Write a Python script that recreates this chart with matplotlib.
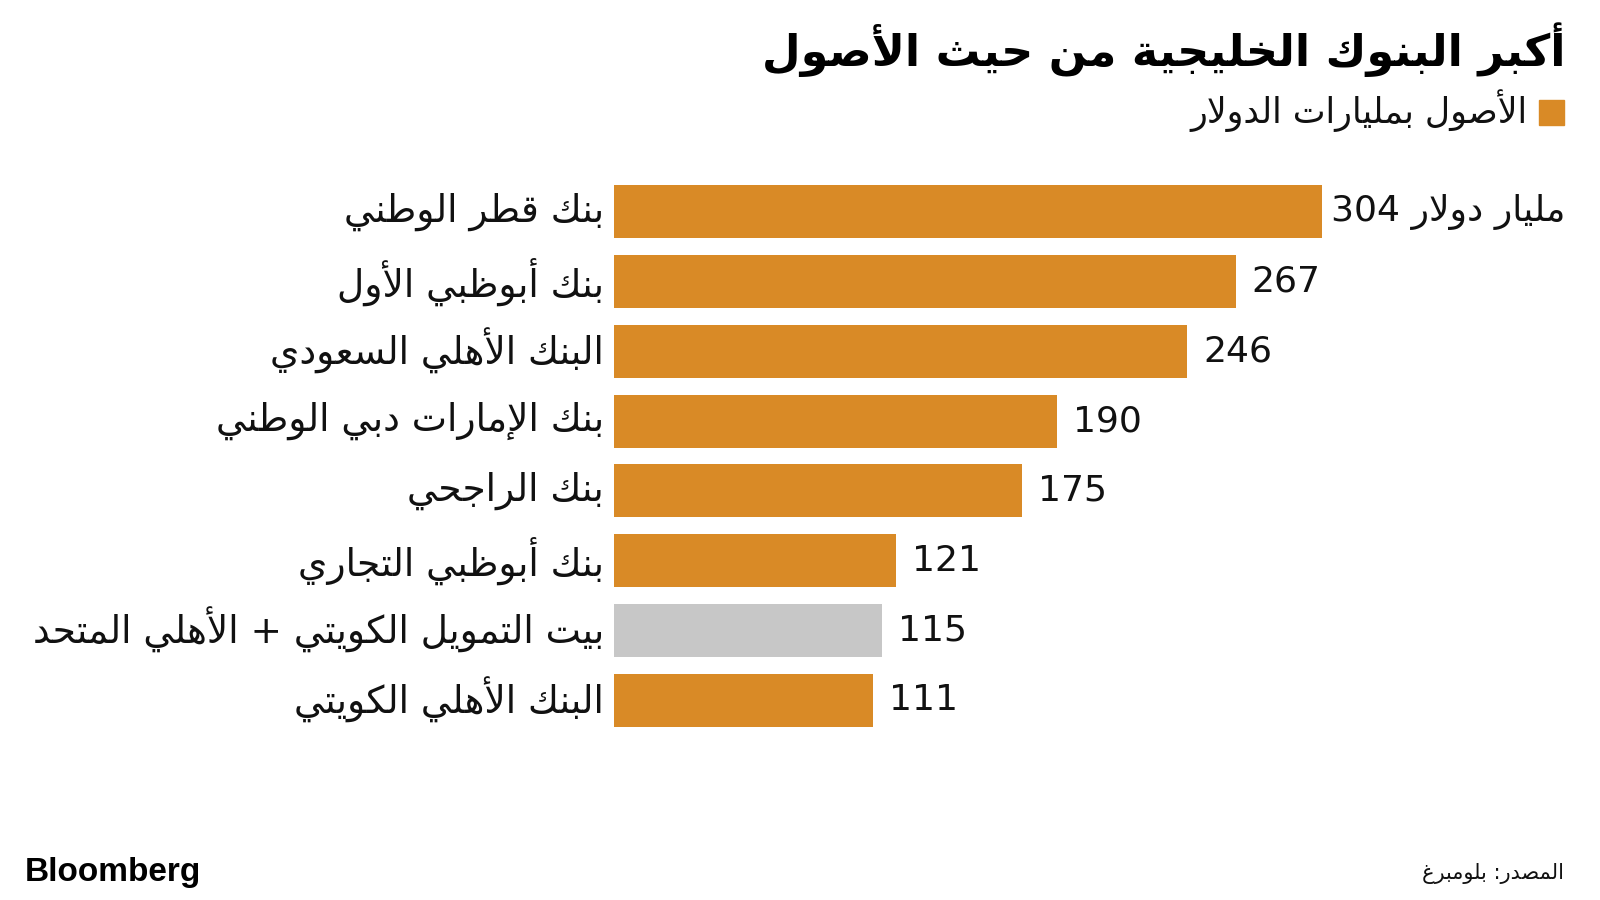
import matplotlib
matplotlib.use("Agg")
import matplotlib.pyplot as plt

# matplotlib has no Arabic shaping, so map letters to presentation forms
# (isolated, final, initial, medial) and lay them out right-to-left by hand
FORMS = {
    'ء': ('\uFE80',),
    'آ': ('\uFE81', '\uFE82'),
    'أ': ('\uFE83', '\uFE84'),
    'ؤ': ('\uFE85', '\uFE86'),
    'إ': ('\uFE87', '\uFE88'),
    'ئ': ('\uFE89', '\uFE8A', '\uFE8B', '\uFE8C'),
    'ا': ('\uFE8D', '\uFE8E'),
    'ب': ('\uFE8F', '\uFE90', '\uFE91', '\uFE92'),
    'ة': ('\uFE93', '\uFE94'),
    'ت': ('\uFE95', '\uFE96', '\uFE97', '\uFE98'),
    'ث': ('\uFE99', '\uFE9A', '\uFE9B', '\uFE9C'),
    'ج': ('\uFE9D', '\uFE9E', '\uFE9F', '\uFEA0'),
    'ح': ('\uFEA1', '\uFEA2', '\uFEA3', '\uFEA4'),
    'خ': ('\uFEA5', '\uFEA6', '\uFEA7', '\uFEA8'),
    'د': ('\uFEA9', '\uFEAA'),
    'ذ': ('\uFEAB', '\uFEAC'),
    'ر': ('\uFEAD', '\uFEAE'),
    'ز': ('\uFEAF', '\uFEB0'),
    'س': ('\uFEB1', '\uFEB2', '\uFEB3', '\uFEB4'),
    'ش': ('\uFEB5', '\uFEB6', '\uFEB7', '\uFEB8'),
    'ص': ('\uFEB9', '\uFEBA', '\uFEBB', '\uFEBC'),
    'ض': ('\uFEBD', '\uFEBE', '\uFEBF', '\uFEC0'),
    'ط': ('\uFEC1', '\uFEC2', '\uFEC3', '\uFEC4'),
    'ظ': ('\uFEC5', '\uFEC6', '\uFEC7', '\uFEC8'),
    'ع': ('\uFEC9', '\uFECA', '\uFECB', '\uFECC'),
    'غ': ('\uFECD', '\uFECE', '\uFECF', '\uFED0'),
    'ف': ('\uFED1', '\uFED2', '\uFED3', '\uFED4'),
    'ق': ('\uFED5', '\uFED6', '\uFED7', '\uFED8'),
    'ك': ('\uFED9', '\uFEDA', '\uFEDB', '\uFEDC'),
    'ل': ('\uFEDD', '\uFEDE', '\uFEDF', '\uFEE0'),
    'م': ('\uFEE1', '\uFEE2', '\uFEE3', '\uFEE4'),
    'ن': ('\uFEE5', '\uFEE6', '\uFEE7', '\uFEE8'),
    'ه': ('\uFEE9', '\uFEEA', '\uFEEB', '\uFEEC'),
    'و': ('\uFEED', '\uFEEE'),
    'ى': ('\uFEEF', '\uFEF0'),
    'ي': ('\uFEF1', '\uFEF2', '\uFEF3', '\uFEF4'),
}
LAM_ALEF = {
    'آ': ('\uFEF5', '\uFEF6'),
    'أ': ('\uFEF7', '\uFEF8'),
    'إ': ('\uFEF9', '\uFEFA'),
    'ا': ('\uFEFB', '\uFEFC'),
}


def joins_next(c):
    return c in FORMS and len(FORMS[c]) == 4


def shape(s):
    out = []
    i = 0
    n = len(s)
    while i < n:
        c = s[i]
        prev_join = i > 0 and joins_next(s[i - 1])
        if c == 'ل' and i + 1 < n and s[i + 1] in LAM_ALEF:
            out.append(LAM_ALEF[s[i + 1]][1 if prev_join else 0])
            i += 2
            continue
        if c not in FORMS:
            out.append(c)
            i += 1
            continue
        f = FORMS[c]
        next_join = (len(f) == 4 and i + 1 < n and s[i + 1] in FORMS
                     and len(FORMS[s[i + 1]]) > 1)
        if len(f) == 1:
            out.append(f[0])
        elif prev_join and next_join:
            out.append(f[3])
        elif prev_join:
            out.append(f[1])
        elif next_join:
            out.append(f[2])
        else:
            out.append(f[0])
        i += 1
    return ''.join(out)


def rtl(s):
    # reverse for display, keeping digit runs in reading order
    s = shape(s)
    tokens = []
    for ch in s:
        if ch.isdigit() and tokens and tokens[-1][-1].isdigit():
            tokens[-1] += ch
        else:
            tokens.append(ch)
    return ''.join(reversed(tokens))


title = "أكبر البنوك الخليجية من حيث الأصول"
legend_label = "الأصول بمليارات الدولار"
unit = "مليار دولار"
source = "المصدر: بلومبرغ"

banks = [
    "بنك قطر الوطني",
    "بنك أبوظبي الأول",
    "البنك الأهلي السعودي",
    "بنك الإمارات دبي الوطني",
    "بنك الراجحي",
    "بنك أبوظبي التجاري",
    "بيت التمويل الكويتي + الأهلي المتحد",
    "البنك الأهلي الكويتي",
]
assets = [304, 267, 246, 190, 175, 121, 115, 111]
merged = [False, False, False, False, False, False, True, False]

ORANGE = "#D98A26"
GREY = "#C7C7C7"
INK = "#111111"

plt.rcParams['font.family'] = ['DejaVu Sans']

fig = plt.figure(figsize=(16, 9), dpi=100)
ax = fig.add_axes([614 / 1600, 1 - 735 / 900, 952 / 1600, (735 - 177) / 900])

ypos = list(range(len(banks)))
colors = [GREY if m else ORANGE for m in merged]
ax.barh(ypos, assets, height=0.76, color=colors, zorder=2)
ax.set_xlim(0, 952 / 2.329)
ax.set_ylim(len(banks) - 0.5, -0.5)
ax.axis('off')

for y, v, name in zip(ypos, assets, banks):
    txt = f"{v}"
    gap = 16
    if y == 0:
        txt = f"{v} " + rtl(unit)
        gap = 9
    ax.annotate(txt, (v, y), xytext=(gap, 0), textcoords='offset pixels',
                ha='left', va='center', fontsize=26, color=INK)
    ax.annotate(rtl(name), (0, y), xytext=(-10, 0), textcoords='offset pixels',
                ha='right', va='center', fontsize=27, color=INK)

fig.text(1566 / 1600, 1 - 50 / 900, rtl(title), ha='right', va='center',
         fontsize=32, fontweight='bold', color='black')

# legend swatch + text
fig.patches.append(plt.Rectangle((1539 / 1600, 1 - 125 / 900), 25 / 1600, 25 / 900,
                                 transform=fig.transFigure, color=ORANGE))
fig.text(1528 / 1600, 1 - 111 / 900, rtl(legend_label), ha='right', va='center',
         fontsize=25, color=INK)

fig.text(25 / 1600, 1 - 873 / 900, "Bloomberg", ha='left', va='center',
         fontsize=24, fontweight='bold', family='Liberation Sans', color='black')
fig.text(1564 / 1600, 1 - 874 / 900, rtl(source), ha='right', va='center',
         fontsize=15, color=INK)

fig.savefig("out.png", dpi=100, facecolor='white')
